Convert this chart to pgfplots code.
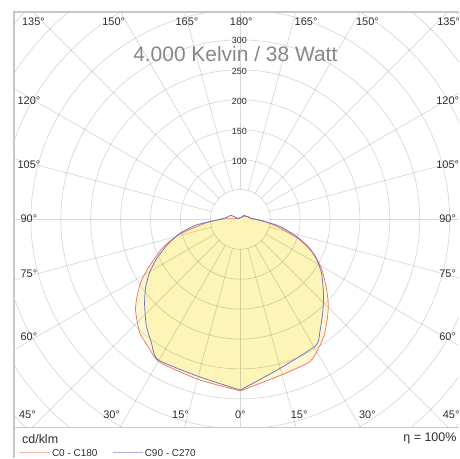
\documentclass[border=0pt]{standalone}
\usepackage{pgfplots}
\pgfplotsset{compat=1.18}
\usepackage{pgfplotstable}
\usepackage{fontspec}
\setmainfont{Liberation Sans}

\definecolor{framec}{RGB}{200,200,200}
\definecolor{titlec}{RGB}{135,135,135}
\definecolor{textc}{RGB}{45,45,45}
\definecolor{redc}{RGB}{238,120,96}
\definecolor{bluec}{RGB}{112,112,192}
\definecolor{fillc}{RGB}{250,232,110}
\tikzset{gridline/.style={black, opacity=0.15, line width=0.7pt}}

% polar data: angle (deg, maths convention, 0 deg pointing down = -90), cd/klm
\pgfplotstableread{
phi I
-90 286.7
-104.29 276.9
-119.48 274.4
-124.99 264.5
-131.72 253.0
-138.87 232.4
-142.95 216.6
-148.15 194.9
-152.84 170.5
-159.99 137.8
-166.19 104.7
-175.76 51.8
178.1 25.0
175.2 10.0
63.4 3.7
36.87 8.3
18.65 14.1
2.6 18.4
-2.6 36.7
-12.01 66.5
-18.73 103.8
-25.31 136.4
-31.46 159.6
-38.36 183.4
-43.91 204.3
-48.88 221.2
-54.26 239.7
-59.59 254.5
-64.29 265.1
-76.05 269.6
-90 286.7
}\ccero

\pgfplotstableread{
phi I
-90 285.5
-104.55 272.0
-120.45 272.0
-125.91 253.7
-131.47 237.3
-138.48 213.7
-144.29 195.0
-149.64 175.8
-154.61 155.5
-160.23 131.6
-166.81 104.4
-172.67 74.4
-176.49 46.3
173.22 24.0
156.73 16.9
157.6 3.1
45 9.4
10.7 15.3
-4.36 37.3
-9.75 66.0
-16.69 96.9
-22.30 124.3
-28.35 146.4
-33.95 164.1
-40.72 183.2
-45.58 198.4
-49.60 211.7
-54.87 230.9
-59.14 246.0
-75.43 258.3
-90 285.5
}\cninety

\begin{document}
\begin{tikzpicture}
\begin{scope}[shift={(-14pt,429pt)},x=1pt,y=-1pt]
  \path[use as bounding box] (0,0) rectangle (460,459);
\end{scope}

\begin{axis}[
    at={(0,0)}, anchor=south west,
    scale only axis,
    width=446pt, height=417pt,
    xmin=-378.33, xmax=365,
    ymin=-348.33, ymax=346.67,
    axis lines=none,
  ]
  \addplot[data cs=polar, smooth, tension=0.35, draw=none, fill=fillc, fill opacity=0.29] table[x=phi,y=I] {\ccero};
  \addplot[data cs=polar, smooth, tension=0.35, draw=none, fill=fillc, fill opacity=0.29] table[x=phi,y=I] {\cninety};

  \pgfplotsinvokeforeach{50,100,...,550}{
    \draw[gridline] (axis cs:0,0) circle[radius=#1];
  }
  \pgfplotsinvokeforeach{0,15,...,345}{
    \draw[gridline] (axis cs:{50*cos(#1)},{50*sin(#1)}) -- (axis cs:{650*cos(#1)},{650*sin(#1)});
  }

  \addplot[data cs=polar, smooth, tension=0.35, redc, line width=0.75pt, line join=round] table[x=phi,y=I] {\ccero};
  \addplot[data cs=polar, smooth, tension=0.35, bluec, line width=0.75pt, line join=round] table[x=phi,y=I] {\cninety};
\end{axis}

\begin{scope}[shift={(-14pt,429pt)},x=1pt,y=-1pt,
    deg/.style={textc, inner sep=0pt, font=\fontsize{11}{12}\selectfont},
    num/.style={textc, inner sep=0pt, font=\fontsize{9}{10}\selectfont}]
  \draw[framec, line width=1.3pt] (14,459) -- (14,12) -- (460,12);
  \draw[framec, line width=1.3pt] (14,429) -- (460,429);

  % angle labels, top
  \node[deg] at (33.5,21.7) {135°};
  \node[deg] at (114,21.7) {150°};
  \node[deg] at (187.5,21.7) {165°};
  \node[deg] at (242,21.7) {180°};
  \node[deg] at (307,21.7) {165°};
  \node[deg] at (368.5,21.7) {150°};
  \node[deg] at (450,21.7) {135°};
  % bottom
  \node[deg] at (27.5,415.7) {45°};
  \node[deg] at (112,415.7) {30°};
  \node[deg] at (181,415.7) {15°};
  \node[deg] at (241,415.7) {0°};
  \node[deg] at (300,415.7) {15°};
  \node[deg] at (368.5,415.7) {30°};
  \node[deg] at (452.5,415.7) {45°};
  % sides
  \node[deg] at (29,101) {120°};
  \node[deg] at (29,165) {105°};
  \node[deg] at (29,219) {90°};
  \node[deg] at (29,275) {75°};
  \node[deg] at (29,338) {60°};
  \node[deg] at (449,101) {120°};
  \node[deg] at (449,165) {105°};
  \node[deg] at (449,219) {90°};
  \node[deg] at (449,275) {75°};
  \node[deg] at (449,338) {60°};

  % intensity labels
  \node[num] at (240,41) {300};
  \node[num] at (240,72) {250};
  \node[num] at (240,101.5) {200};
  \node[num] at (240,132) {150};
  \node[num] at (240,162) {100};

  \node[titlec, anchor=base, inner sep=0pt, font=\fontsize{21}{24}\selectfont] at (236,61.7) {\smash{4.000 Kelvin / 38 Watt}};

  % footer
  \node[textc, anchor=base west, inner sep=0pt, font=\fontsize{12.5}{14}\selectfont] at (22,445) {cd/klm};
  \node[textc, anchor=base east, inner sep=0pt, font=\fontsize{12.5}{14}\selectfont] at (458,443) {η = 100\%};
  \draw[redc!55, line width=0.8pt] (20,454) -- (50,454);
  \node[textc, anchor=west, inner sep=0pt, font=\fontsize{10}{11}\selectfont] at (52,454) {C0 - C180};
  \draw[bluec!55, line width=0.8pt] (113,454) -- (143,454);
  \node[textc, anchor=west, inner sep=0pt, font=\fontsize{10}{11}\selectfont] at (145,454) {C90 - C270};
\end{scope}
\end{tikzpicture}
\end{document}
